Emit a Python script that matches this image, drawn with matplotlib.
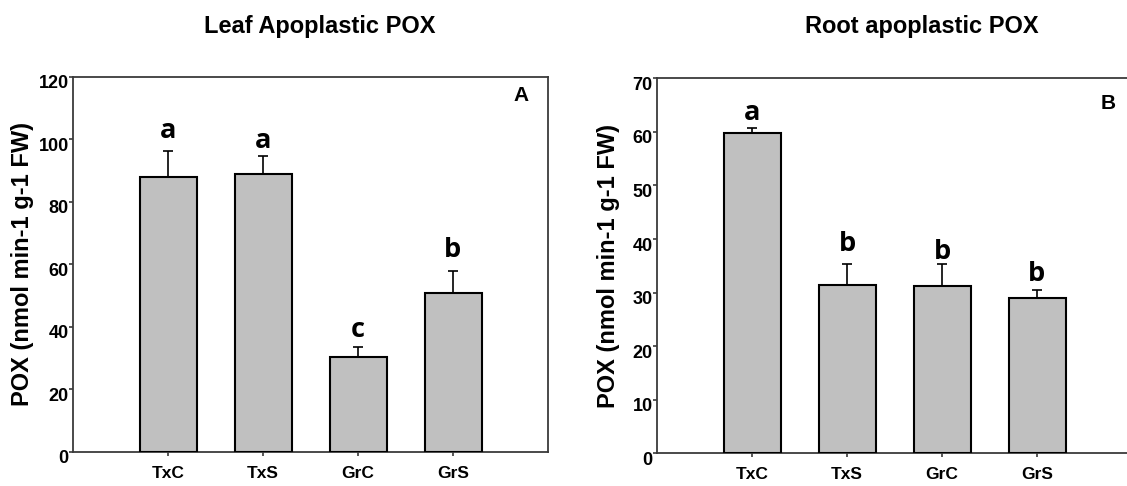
import matplotlib
matplotlib.use("Agg")
import matplotlib.pyplot as plt
import matplotlib.transforms as mtransforms
import numpy as np

# treatments and measured values
groups = ["TxC", "TxS", "GrC", "GrS"]

leaf_pox = [87.8, 88.9, 30.4, 50.7]
leaf_err = [8.5, 5.8, 3.0, 7.1]
leaf_letters = ["a", "a", "c", "b"]
leaf_letter_y = [100.3, 97.1, 36.6, 62.4]

root_pox = [59.85, 31.5, 31.2, 29.0]
root_err = [0.95, 3.8, 4.1, 1.4]
root_letters = ["a", "b", "b", "b"]
root_letter_y = [62.3, 37.8, 36.2, 32.1]

plt.rcParams["font.family"] = ["Liberation Sans", "DejaVu Sans"]
plt.rcParams["font.weight"] = "bold"

W, H = 1127, 486
fig = plt.figure(figsize=(W / 100, H / 100), dpi=100)

spine_color = "#3a3a3a"


def draw_panel(ax, values, errs, letters, letter_y, ymax, ystep, tag, tag_xy):
    x = np.arange(1, len(groups) + 1)
    ax.bar(x, values, width=0.6, color="#c0c0c0", edgecolor="black",
           linewidth=1.5, zorder=3)
    ax.errorbar(x, values, yerr=[np.zeros(len(errs)), errs], fmt="none",
                ecolor="black", elinewidth=1.2, capsize=3.4, capthick=1.2,
                zorder=2)
    for xi, lab, ly in zip(x, letters, letter_y):
        ax.text(xi, ly, lab, ha="center", va="baseline", fontsize=19.5,
                fontweight="bold", family=["Open Sans", "DejaVu Sans"])
    ax.text(tag_xy[0], tag_xy[1], tag, ha="center", va="center",
            fontsize=15, fontweight="bold")

    ax.set_xlim(0, 5)
    ax.set_ylim(0, ymax)
    ax.set_xticks(x)
    ax.set_xticklabels(groups, fontsize=12.5, fontweight="bold")
    ax.set_yticks(np.arange(0, ymax + 1, ystep))
    ax.set_yticklabels([str(v) for v in range(0, ymax + 1, ystep)],
                       fontsize=13, fontweight="bold")
    ax.tick_params(axis="both", direction="out", length=3.1, width=1.2,
                   color=spine_color)
    ax.tick_params(axis="x", pad=7)
    ax.tick_params(axis="y", pad=0)
    for s in ["left", "top", "bottom", "right"]:
        ax.spines[s].set_color(spine_color)
        ax.spines[s].set_linewidth(1.3)
    ax.set_ylabel("POX (nmol min-1 g-1 FW)", fontsize=17, fontweight="bold")
    ax.yaxis.label.set_verticalalignment("center")

    # tick labels sit slightly below their ticks
    shift = mtransforms.ScaledTranslation(0, -5 / 100, fig.dpi_scale_trans)
    for lbl in ax.get_yticklabels():
        lbl.set_transform(lbl.get_transform() + shift)


ax1 = fig.add_axes([73 / W, (H - 451.7) / H, 475 / W, 375 / H])
draw_panel(ax1, leaf_pox, leaf_err, leaf_letters, leaf_letter_y, 120, 20,
           "A", (4.72, 114))
ax1.yaxis.set_label_coords((22.5 - 73) / 475, 0.5)

ax2 = fig.add_axes([657 / W, (H - 453.3) / H, 475 / W, 375 / H])
draw_panel(ax2, root_pox, root_err, root_letters, root_letter_y, 70, 10,
           "B", (4.75, 65.3))
ax2.yaxis.set_label_coords((608.5 - 657) / 475, 0.5)

fig.text(320 / W, 1 - 27 / H, "Leaf Apoplastic POX", ha="center",
         va="center", fontsize=17, fontweight="bold")
fig.text(922 / W, 1 - 27 / H, "Root apoplastic POX", ha="center",
         va="center", fontsize=17, fontweight="bold")

fig.savefig("out.png", dpi=100)
